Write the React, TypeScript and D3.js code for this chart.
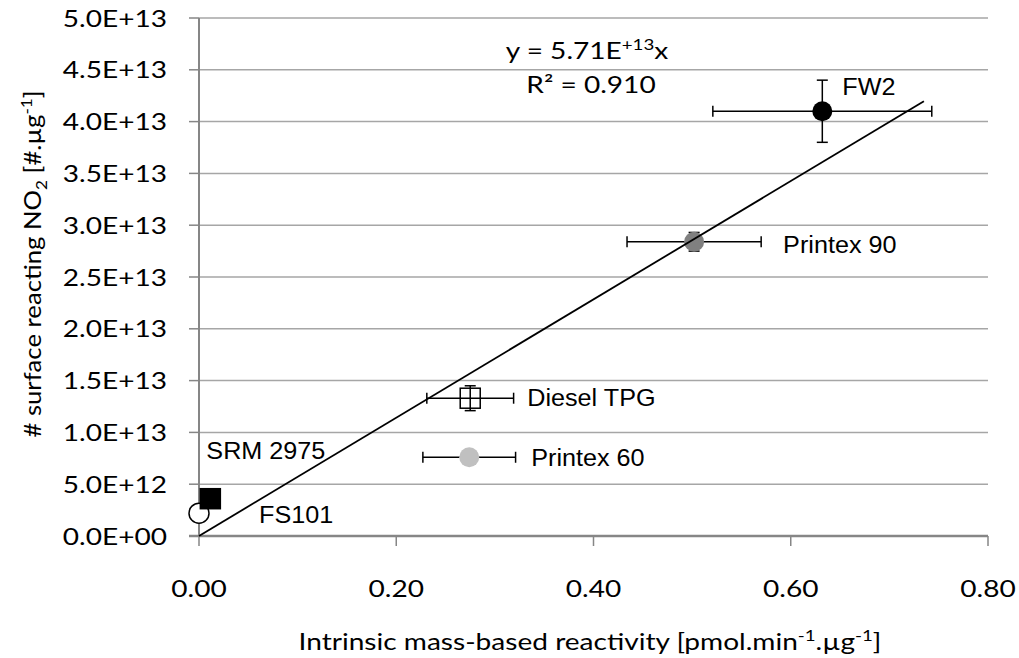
import React from "react";
import * as d3 from "d3";

const names = ["FS101", "SRM 2975", "Printex 60", "Diesel TPG", "Printex 90", "FW2"];
const xVals = [0.0, 0.0115, 0.274, 0.275, 0.502, 0.632];
const yVals = [2.2e12, 3.6e12, 7.6e12, 1.33e13, 2.84e13, 4.1e13];
const xErr = [0, 0, 0.047, 0.044, 0.068, 0.111];
const yErr = [0, 0, 0, 1.2e12, 0.9e12, 3.0e12];
const shapes = ["circle", "square", "circle", "square", "circle", "circle"];
const fills = ["#ffffff", "#000000", "#c0c0c0", "none", "#808080", "#000000"];
const strokes = ["#000000", "#000000", "none", "#000000", "none", "none"];
const labelDx = [60, -4, 62, 57, 89, 20];
const labelDy = [10, -40, 9, 8, 11, -16];

const yTicks = [0, 5e12, 1e13, 1.5e13, 2e13, 2.5e13, 3e13, 3.5e13, 4e13, 4.5e13, 5e13];
const xTicks = [0, 0.2, 0.4, 0.6, 0.8];
const slope = 5.71e13;
const fitRange = [0, 0.735];

const W = 1019;
const H = 658;
const SX = 1.17;

function fmtY(v: number) {
  if (v === 0) return "0.0E+00";
  const e = Math.floor(Math.log10(v));
  const m = v / Math.pow(10, e);
  return `${m.toFixed(1)}E+${String(e).padStart(2, "0")}`;
}

const tickFont = "Lato, 'Open Sans', sans-serif";
const labelFont = "'Liberation Sans', Arial, sans-serif";

function T(props: { x: number; y: number; anchor?: string; sx?: number; size?: number; font?: string; children: any; rotate?: number }) {
  const { x, y, anchor = "start", sx = SX, size = 24, font = tickFont, children, rotate = 0 } = props;
  return (
    <text
      transform={`translate(${x},${y}) rotate(${rotate}) scale(${sx},1)`}
      textAnchor={anchor}
      fontFamily={font}
      fontSize={size}
      fill="#000"
    >
      {children}
    </text>
  );
}

export default function App() {
  const x = d3.scaleLinear().domain([0, 0.8]).range([199, 988]);
  const y = d3.scaleLinear().domain([0, 5e13]).range([536, 18]);
  const line = d3.line<number>().x((d) => x(d)).y((d) => y(d * slope));

  return (
    <svg width={W} height={H} style={{ position: "absolute", left: 0, top: 0, background: "#fff" }}>
      {/* gridlines */}
      {yTicks.map((t, i) => (
        <line key={"g" + i} x1={x(0)} x2={x(0.8)} y1={y(t)} y2={y(t)} stroke="#a6a6a6" strokeWidth={1.5} />
      ))}
      {/* y axis */}
      <line x1={x(0)} x2={x(0)} y1={y(0)} y2={y(5e13)} stroke="#868686" strokeWidth={2} />
      {yTicks.map((t, i) => (
        <g key={"yt" + i}>
          <line x1={x(0) - 10} x2={x(0)} y1={y(t)} y2={y(t)} stroke="#868686" strokeWidth={1.5} />
          <T x={167} y={y(t) + 8.5} anchor="end">
            {fmtY(t)}
          </T>
        </g>
      ))}
      {/* x axis */}
      <line x1={x(0) - 10} x2={x(0.8)} y1={y(0)} y2={y(0)} stroke="#868686" strokeWidth={2.5} />
      {xTicks.map((t, i) => (
        <g key={"xt" + i}>
          <line x1={x(t)} x2={x(t)} y1={y(0)} y2={y(0) + 10} stroke="#868686" strokeWidth={1.5} />
          <T x={x(t)} y={597} anchor="middle">
            {t.toFixed(2)}
          </T>
        </g>
      ))}
      {/* axis titles */}
      <T x={590} y={650} anchor="middle">
        Intrinsic mass-based reactivity [pmol.min
        <tspan dy={-9} fontSize={16}>-1</tspan>
        <tspan dy={9}>.µg</tspan>
        <tspan dy={-9} fontSize={16}>-1</tspan>
        <tspan dy={9}>]</tspan>
      </T>
      <T x={41} y={264} anchor="middle" rotate={-90} sx={1.07}>
        # surface reacting NO
        <tspan dy={6} fontSize={16}>2</tspan>
        <tspan dy={-6}> [#.µg</tspan>
        <tspan dy={-9} fontSize={16}>-1</tspan>
        <tspan dy={9}>]</tspan>
      </T>
      {/* error bars */}
      {names.map((n, i) => {
        const cx = x(xVals[i]);
        const cy = y(yVals[i]);
        const parts: any[] = [];
        if (xErr[i] > 0) {
          const x0 = x(xVals[i] - xErr[i]);
          const x1 = x(xVals[i] + xErr[i]);
          parts.push(<line key="h" x1={x0} x2={x1} y1={cy} y2={cy} stroke="#000" strokeWidth={1.5} />);
          parts.push(<line key="hc0" x1={x0} x2={x0} y1={cy - 5.5} y2={cy + 5.5} stroke="#000" strokeWidth={1.5} />);
          parts.push(<line key="hc1" x1={x1} x2={x1} y1={cy - 5.5} y2={cy + 5.5} stroke="#000" strokeWidth={1.5} />);
        }
        if (yErr[i] > 0) {
          const y0 = y(yVals[i] - yErr[i]);
          const y1 = y(yVals[i] + yErr[i]);
          parts.push(<line key="v" x1={cx} x2={cx} y1={y0} y2={y1} stroke="#000" strokeWidth={1.5} />);
          parts.push(<line key="vc0" x1={cx - 5.5} x2={cx + 5.5} y1={y0} y2={y0} stroke="#000" strokeWidth={1.5} />);
          parts.push(<line key="vc1" x1={cx - 5.5} x2={cx + 5.5} y1={y1} y2={y1} stroke="#000" strokeWidth={1.5} />);
        }
        return <g key={"e" + i}>{parts}</g>;
      })}
      {/* markers */}
      {names.map((n, i) => {
        const cx = x(xVals[i]);
        const cy = y(yVals[i]);
        return shapes[i] === "circle" ? (
          <circle key={"m" + i} cx={cx} cy={cy} r={10} fill={fills[i]} stroke={strokes[i]} strokeWidth={1.5} />
        ) : (
          <rect key={"m" + i} x={cx - 10} y={cy - 10} width={20} height={20} fill={fills[i]} stroke={strokes[i]} strokeWidth={1.5} />
        );
      })}
      {/* fit line */}
      <path d={line(fitRange) || ""} fill="none" stroke="#000" strokeWidth={1.8} />
      {/* labels */}
      {names.map((n, i) => (
        <T key={"l" + i} x={x(xVals[i]) + labelDx[i]} y={y(yVals[i]) + labelDy[i]} font={labelFont} size={24} sx={1.05}>
          {n}
        </T>
      ))}
      {/* equation */}
      <T x={587} y={59} anchor="middle">
        y = 5.71E<tspan dy={-9} fontSize={16}>+13</tspan>
        <tspan dy={9}>x</tspan>
      </T>
      <T x={591} y={93} anchor="middle">
        R² = 0.910
      </T>
    </svg>
  );
}
